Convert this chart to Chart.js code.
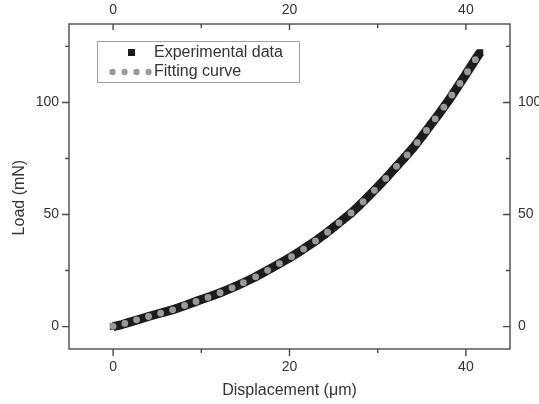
<!DOCTYPE html>
<html>
<head>
<meta charset="utf-8">
<script src="https://cdn.jsdelivr.net/npm/chart.js@4.4.1/dist/chart.umd.min.js"></script>
<style>
html,body{margin:0;padding:0;background:#ffffff;}
#wrap{width:539px;height:404px;}
</style>
</head>
<body>
<div id="wrap"><canvas id="c" width="539" height="404"></canvas></div>
<script>
// ---- data ----
const seriesNames = ['Experimental data', 'Fitting curve'];
const axisTitleX = 'Displacement (μm)';
const axisTitleY = 'Load (mN)';

const expX = [0,1,2,3,4,5,6,7,8,9,10,11,12,13,14,15,16,17,18,19,20,21,22,23,24,25,26,27,28,29,30,31,32,33,34,35,36,37,38,39,40,41,41.6];
const expY = [0,0.9,2.1,3.3,4.5,5.6,6.7,7.8,9.2,10.6,12.1,13.4,14.9,16.5,18.2,20.0,21.9,24.0,26.2,28.4,30.7,33.1,35.7,38.3,41.2,44.3,47.5,50.7,54.4,58.3,62.3,66.5,70.9,75.2,79.7,84.7,90.0,95.2,100.7,106.6,112.6,118.7,122.3];

const fitX = [0,1.33,2.66,4.02,5.39,6.75,8.11,9.4,10.76,12.13,13.49,14.77,16.16,17.52,18.86,20.23,21.59,22.95,24.32,25.61,26.98,28.34,29.63,30.91,32.13,33.34,34.48,35.53,36.52,37.5,38.41,39.32,40.19,41.07];
const fitY = [0.1,1.4,3.0,4.5,6.0,7.5,9.4,11.2,13.0,15.1,17.3,19.6,22.2,25.1,28.1,31.2,34.6,38.2,42.1,46.3,50.7,55.7,60.8,66.1,71.5,76.6,82.1,87.5,92.7,97.9,103.3,108.5,113.7,119.1];

const xTickLabels = [0, 20, 40];
const xMinorTicks = [10, 30];
const yTickLabels = [0, 50, 100];
const yMinorTicks = [25, 75, 125];
const xRange = [-5, 45];
const yRange = [-10, 135];

// ---- styles ----
const FONT = 'Liberation Sans, Arial, Helvetica, sans-serif';
const TXT = '#333333';
const EXP_COLOR = '#1c1c1c';
const FIT_COLOR = '#9a9a9a';
const FRAME = '#4a4a4a';

const expPts = expX.map((x, i) => ({x: x, y: expY[i]}));
const fitPts = fitX.map((x, i) => ({x: x, y: fitY[i]}));

const framePlugin = {
  id: 'frameTicks',
  afterDatasetsDraw(chart) {
    const ctx = chart.ctx, a = chart.chartArea;
    const sx = chart.scales.x, sy = chart.scales.y;
    ctx.save();
    ctx.strokeStyle = FRAME;
    ctx.lineWidth = 1.4;
    ctx.strokeRect(a.left, a.top, a.right - a.left, a.bottom - a.top);
    ctx.beginPath();
    const tick = (x1, y1, x2, y2) => { ctx.moveTo(x1, y1); ctx.lineTo(x2, y2); };
    xTickLabels.forEach(v => {
      const p = sx.getPixelForValue(v);
      tick(p, a.bottom, p, a.bottom + 7);
      tick(p, a.top, p, a.top + 6);
    });
    xMinorTicks.forEach(v => {
      const p = sx.getPixelForValue(v);
      tick(p, a.bottom, p, a.bottom + 4);
      tick(p, a.top, p, a.top + 4);
    });
    yTickLabels.forEach(v => {
      const p = sy.getPixelForValue(v);
      tick(a.left - 7, p, a.left, p);
      tick(a.right - 7, p, a.right, p);
    });
    yMinorTicks.forEach(v => {
      const p = sy.getPixelForValue(v);
      tick(a.left - 4, p, a.left, p);
      tick(a.right - 4, p, a.right, p);
    });
    ctx.stroke();
    ctx.restore();
  }
};

const legendPlugin = {
  id: 'insideLegend',
  afterDraw(chart) {
    const ctx = chart.ctx, a = chart.chartArea;
    const bx = a.left + 28, by = a.top + 17, bw = 202, bh = 41;
    ctx.save();
    ctx.fillStyle = '#ffffff';
    ctx.fillRect(bx, by, bw, bh);
    ctx.strokeStyle = '#a0a0a0';
    ctx.lineWidth = 1;
    ctx.strokeRect(bx + 0.5, by + 0.5, bw, bh);
    // entry 1: square
    ctx.fillStyle = EXP_COLOR;
    ctx.fillRect(bx + 31, by + 8, 7, 7);
    // entry 2: dots
    ctx.fillStyle = FIT_COLOR;
    [15.5, 27.5, 39.5, 51.5].forEach(dx => {
      ctx.beginPath();
      ctx.arc(bx + dx, by + 31, 3.2, 0, Math.PI * 2);
      ctx.fill();
    });
    ctx.fillStyle = TXT;
    ctx.font = '16px ' + FONT;
    ctx.textBaseline = 'middle';
    ctx.textAlign = 'left';
    ctx.fillText(seriesNames[0], bx + 57, by + 11.5);
    ctx.fillText(seriesNames[1], bx + 57, by + 31);
    ctx.restore();
  }
};

const tickFont = {family: FONT, size: 14};
const titleFont = {family: FONT, size: 16};

new Chart(document.getElementById('c'), {
  type: 'scatter',
  data: {
    datasets: [
      {
        label: seriesNames[0],
        data: expPts,
        showLine: true,
        borderColor: EXP_COLOR,
        borderWidth: 9,
        borderCapStyle: 'butt',
        borderJoinStyle: 'round',
        pointStyle: 'rect',
        pointRadius: 4.6,
        pointBackgroundColor: EXP_COLOR,
        pointBorderWidth: 0,
        order: 2
      },
      {
        label: seriesNames[1],
        data: fitPts,
        showLine: false,
        pointStyle: 'circle',
        pointRadius: 3.4,
        pointBackgroundColor: FIT_COLOR,
        pointBorderWidth: 0,
        order: 1
      }
    ]
  },
  options: {
    responsive: false,
    animation: false,
    devicePixelRatio: 1,
    layout: {padding: 0},
    plugins: {legend: {display: false}, tooltip: {enabled: false}},
    scales: {
      x: {
        type: 'linear', position: 'bottom', min: xRange[0], max: xRange[1],
        afterFit: s => { s.height = 55; },
        afterBuildTicks: s => { s.ticks = xTickLabels.map(v => ({value: v})); },
        grid: {display: false, drawTicks: false},
        border: {display: false},
        ticks: {padding: 10, font: tickFont, color: TXT, maxRotation: 0},
        title: {display: true, text: axisTitleX, font: titleFont, color: TXT, padding: {top: 0, bottom: 4}}
      },
      x2: {
        type: 'linear', position: 'top', min: xRange[0], max: xRange[1],
        afterFit: s => { s.height = 24; },
        afterBuildTicks: s => { s.ticks = xTickLabels.map(v => ({value: v})); },
        grid: {display: false, drawTicks: false},
        border: {display: false},
        ticks: {padding: 5, font: tickFont, color: TXT, maxRotation: 0}
      },
      y: {
        type: 'linear', position: 'left', min: yRange[0], max: yRange[1],
        afterFit: s => { s.width = 69; },
        afterBuildTicks: s => { s.ticks = yTickLabels.map(v => ({value: v})); },
        grid: {display: false, drawTicks: false},
        border: {display: false},
        ticks: {padding: 10, font: tickFont, color: TXT},
        title: {display: true, text: axisTitleY + '     ', font: titleFont, color: TXT, padding: {top: 9.5, bottom: 0}}
      },
      y2: {
        type: 'linear', position: 'right', min: yRange[0], max: yRange[1],
        afterFit: s => { s.width = 29; },
        afterBuildTicks: s => { s.ticks = yTickLabels.map(v => ({value: v})); },
        grid: {display: false, drawTicks: false},
        border: {display: false},
        ticks: {padding: 8, font: tickFont, color: TXT}
      }
    }
  },
  plugins: [framePlugin, legendPlugin]
});
</script>
</body>
</html>
